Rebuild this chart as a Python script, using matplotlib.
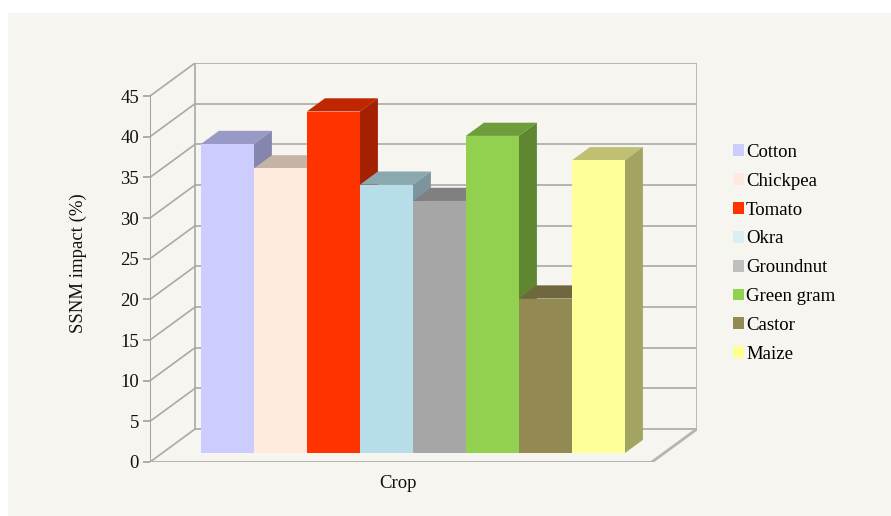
import matplotlib.pyplot as plt
from matplotlib.patches import Polygon, Rectangle, Patch

crops = ["Cotton", "Chickpea", "Tomato", "Okra", "Groundnut", "Green gram", "Castor", "Maize"]
impact = [38, 35, 42, 33, 31, 39, 19, 36]
front_colors = ["#ccccff", "#feebdd", "#ff3300", "#b7dee8", "#a6a6a6", "#92d050", "#938953", "#ffff99"]
top_colors = ["#9999c6", "#c4b3a6", "#c02600", "#8aa8b0", "#808080", "#6e9d3c", "#6f6740", "#c0c074"]
side_colors = ["#8585ad", "#b09f94", "#a32000", "#7c959c", "#6e6e6e", "#5f8732", "#5f5836", "#a3a362"]
legend_colors = ["#ccccff", "#fde9df", "#ff3300", "#daeef3", "#bfbfbf", "#92d050", "#938953", "#ffff99"]
yticks = list(range(0, 46, 5))

# pseudo 3d geometry (data units)
DX, DY = 0.851, 4.06      # full depth of the box
FLOOR_W = 9.47            # front width of the floor
BAR_D0, BAR_D1 = 0.27, 0.67
X0 = 0.73                 # left gap before first bar
GRID = "#a9a9a9"

plt.rcParams['font.family'] = ['Liberation Serif', 'DejaVu Serif']

fig = plt.figure(figsize=(8.91, 5.16), dpi=100)
fig.patch.set_facecolor("white")
fig.patches.append(Rectangle((8 / 891, 0), 1, 1 - 13 / 516, transform=fig.transFigure,
                             facecolor="#f7f5f0", edgecolor="none", zorder=-5))

ax = fig.add_axes([150 / 891, 54 / 516, 547 / 891, 399 / 516])
ax.set_facecolor("none")
ax.set_zorder(2)
ax.set_xlim(0, FLOOR_W + DX)
ax.set_ylim(0, 45 + DY)


def p(x, y, d):
    return (x + d * DX, y + d * DY)


# walls and grid
for v in yticks:
    ax.plot([p(0, v, 0)[0], p(0, v, 1)[0]], [p(0, v, 0)[1], p(0, v, 1)[1]], color=GRID, lw=1.2, zorder=1)
    ax.plot([p(0, v, 1)[0], p(FLOOR_W, v, 1)[0]], [p(0, v, 1)[1]] * 2, color=GRID, lw=1.2, zorder=1)
ax.plot([DX, DX], [DY, 45 + DY], color=GRID, lw=1.2, zorder=1)
ax.plot([FLOOR_W + DX] * 2, [DY, 45 + DY], color="#b4b4b4", lw=2, zorder=1)
ax.plot([FLOOR_W, FLOOR_W + DX], [0, DY], color="#b4b4b4", lw=2, zorder=1)
ax.plot([0, FLOOR_W], [0, 0], color="#b4b4b4", lw=2.2, zorder=1, solid_capstyle="butt")
ax.plot([0, 0], [0, 45], color="#a0a0a0", lw=1.4, zorder=1)

# bars, painted left to right
for i, (v, fc, tc, sc) in enumerate(zip(impact, front_colors, top_colors, side_colors)):
    xl = X0 + i
    xr = xl + 1
    top = [p(xl, v, BAR_D0), p(xr, v, BAR_D0), p(xr, v, BAR_D1), p(xl, v, BAR_D1)]
    side = [p(xr, 0, BAR_D0), p(xr, v, BAR_D0), p(xr, v, BAR_D1), p(xr, 0, BAR_D1)]
    front = [p(xl, 0, BAR_D0), p(xr, 0, BAR_D0), p(xr, v, BAR_D0), p(xl, v, BAR_D0)]
    z = 2 + i
    ax.add_patch(Polygon(top, closed=True, facecolor=tc, edgecolor="none", zorder=z))
    ax.add_patch(Polygon(side, closed=True, facecolor=sc, edgecolor="none", zorder=z))
    ax.add_patch(Polygon(front, closed=True, facecolor=fc, edgecolor="none", zorder=z))

for s in ax.spines.values():
    s.set_visible(False)
ax.set_xticks([])
ax.set_yticks(yticks)
ax.set_yticklabels([str(t) for t in yticks], fontsize=13.5, color="#111111")
ax.tick_params(axis="y", direction="out", length=5, width=1.2, color="#a0a0a0", pad=3)

fig.text(398 / 891, 1 - 483 / 516, "Crop", ha="center", va="center", fontsize=13.5, color="#111111")
fig.text(78 / 891, 1 - 263 / 516, "SSNM impact (%)", ha="center", va="center", rotation=90,
         fontsize=13.5, color="#111111")

handles = [Patch(facecolor=c, edgecolor="none") for c in legend_colors]
fig.legend(handles, crops, loc="upper left", bbox_to_anchor=(733 / 891, 1 - 144 / 516),
           frameon=False, fontsize=13.5, handlelength=0.6, handleheight=0.6,
           handletextpad=0.1, labelspacing=0.63, borderpad=0, borderaxespad=0)

fig.savefig("out.png", dpi=100)
